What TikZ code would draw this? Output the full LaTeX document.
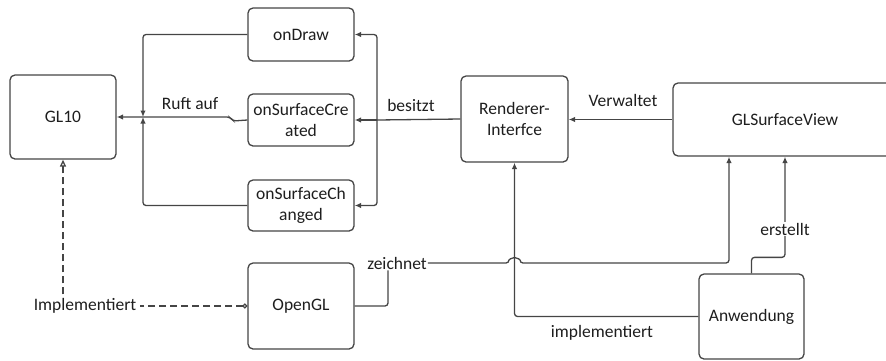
\documentclass[tikz,border=0pt]{standalone}
\usepackage{fontspec}
\setmainfont{Carlito}
\usetikzlibrary{arrows.meta}
\definecolor{ink}{HTML}{1E1E1E}
\definecolor{edge}{HTML}{454545}
\tikzset{
  box/.style={draw=edge, line width=1.3pt, rounded corners=5pt, fill=white,
    text=ink, align=center, inner sep=1pt,
    font=\fontsize{17.5}{21}\selectfont},
  lbl/.style={text=ink, inner sep=1pt, font=\fontsize{17.5}{21}\selectfont},
  conn/.style={draw=edge, line width=1.3pt, rounded corners=3pt},
  arr/.style={conn, -{Latex[length=6.5pt,width=5.5pt]}},
  dashconn/.style={draw=edge, line width=1.3pt, dash pattern=on 7pt off 4pt},
}
\begin{document}
\begin{tikzpicture}[x=1pt, y=-1pt]
\useasboundingbox (0,0) rectangle (886,360);
\clip (0,0) rectangle (886,360);

% boxes
\node[box, minimum width=106pt, minimum height=84pt] (gl) at (63,117) {GL10};
\node[box, minimum width=106pt, minimum height=53pt] (ondraw) at (301,34.5) {onDraw};
\node[box, minimum width=106pt, minimum height=52pt] (created) at (301,120) {onSurfaceCre\\ated};
\node[box, minimum width=106pt, minimum height=51pt] (changed) at (301,205.5) {onSurfaceCh\\anged};
\node[box, minimum width=106pt, minimum height=86pt] (opengl) at (301,306) {OpenGL};
\node[box, minimum width=107pt, minimum height=86pt] (renderer) at (514.5,119) {Renderer-\\Interfce};
\node[box, minimum width=224pt, minimum height=73pt] (glsv) at (785,119.5) {GLSurfaceView};
\node[box, minimum width=105pt, minimum height=85pt] (app) at (751.5,316.5) {Anwendung};

% helper points
\coordinate (lbus) at (143,117);
\coordinate (rbus) at (377,120);
\coordinate (zx) at (388,0);
\coordinate (gx) at (729,0);

% callbacks call into GL10
\draw[arr] (ondraw.west) -| (lbus);
\draw[arr] (changed.west) -| (lbus);
\draw[arr] (created.west) -- (233,121) -- (230,117) -- (gl.east);
\node[lbl] at (190,104) {Ruft auf};

% renderer owns the callbacks
\draw[conn] (renderer.west) -- (rbus);
\draw[arr] (rbus) |- (ondraw.east);
\draw[arr] (rbus) |- (changed.east);
\draw[arr] (rbus) -- (created.east);
\node[lbl] at (411,105) {besitzt};

% view manages renderer
\draw[arr] (glsv.west) -- (renderer.east |- glsv.west);
\node[lbl] at (623,100) {Verwaltet};

% application
\draw[arr] (app.west) -| (renderer.south);
\node[lbl] at (602,333) {implementiert};
\draw[arr] (app.north) -- ++(0,-16) -| (glsv.south);
\node[lbl, fill=white] at (785,229) {erstellt};

% OpenGL draws onto the view
\node[lbl] (zlbl) at (397,263) {zeichnet};
\draw[conn] (opengl.east) -| (zlbl.south -| zx);
\draw[arr] (zlbl.east) -- (509,263) arc[start angle=180, end angle=0, radius=5.5pt]
  -- (729,263) -- (glsv.south -| gx);

% GL10 implemented by OpenGL
\node[lbl, inner sep=4pt] (impl) at (85,306) {Implementiert};
\draw[dashconn, {Circle[open,length=5pt,width=5pt]}-] (opengl.west) -- (impl.east);
\draw[dashconn, -{Triangle[open,length=7pt,width=6pt]}] (impl.north -| gl.south) -- (gl.south);
\end{tikzpicture}
\end{document}
